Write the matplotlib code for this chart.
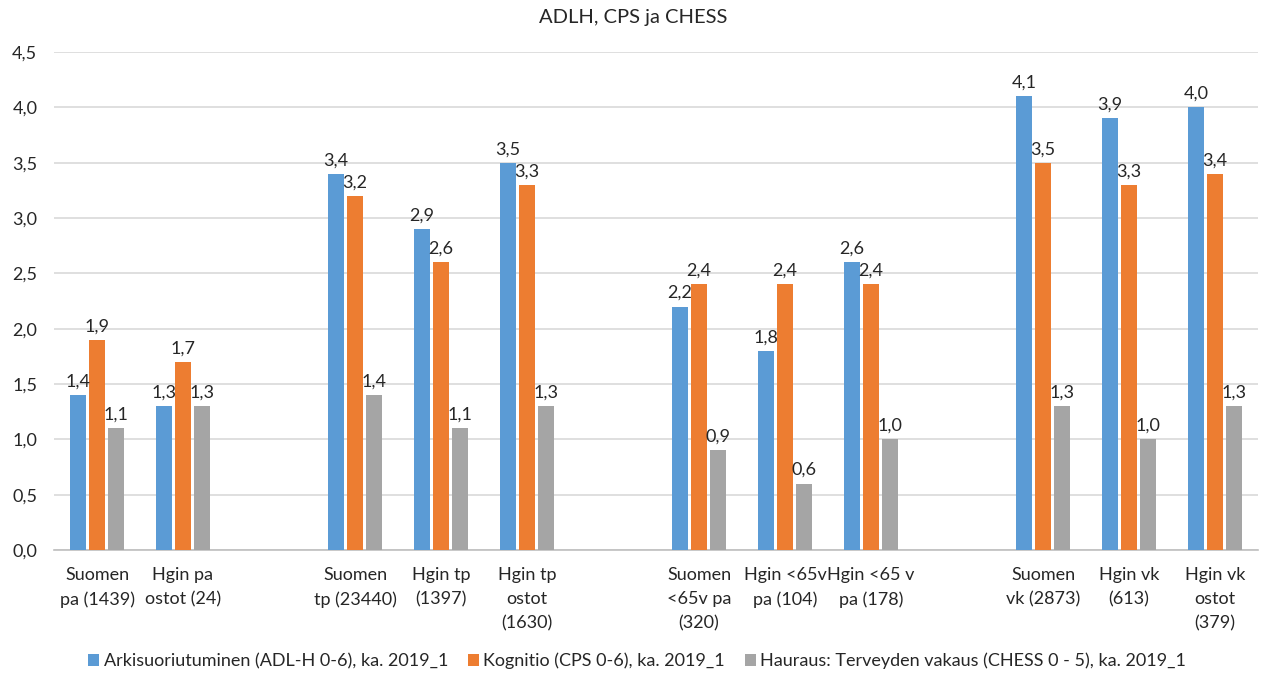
import numpy as np
import matplotlib
matplotlib.use("Agg")
import matplotlib.pyplot as plt

plt.rcParams['font.family'] = ['Lato', 'DejaVu Sans']

# kategoriat (tyhjat = ryhmien valit)
categories = ["Suomen\npa (1439)", "Hgin pa\nostot (24)", "",
              "Suomen\ntp (23440)", "Hgin tp\n(1397)", "Hgin tp\nostot\n(1630)", "",
              "Suomen\n<65v pa\n(320)", "Hgin <65v\npa (104)", "Hgin <65 v\npa (178)", "",
              "Suomen\nvk (2873)", "Hgin vk\n(613)", "Hgin vk\nostot\n(379)"]

adlh = [1.4, 1.3, np.nan, 3.4, 2.9, 3.5, np.nan, 2.2, 1.8, 2.6, np.nan, 4.1, 3.9, 4.0]
cps = [1.9, 1.7, np.nan, 3.2, 2.6, 3.3, np.nan, 2.4, 2.4, 2.4, np.nan, 3.5, 3.3, 3.4]
chess = [1.1, 1.3, np.nan, 1.4, 1.1, 1.3, np.nan, 0.9, 0.6, 1.0, np.nan, 1.3, 1.0, 1.3]

series_names = ["Arkisuoriutuminen (ADL-H 0-6), ka. 2019_1",
                "Kognitio (CPS 0-6), ka. 2019_1",
                "Hauraus: Terveyden vakaus (CHESS 0 - 5), ka. 2019_1"]
colors = ["#5B9BD5", "#ED7D31", "#A5A5A5"]

fig = plt.figure(figsize=(12.67, 6.74), dpi=100)
ax = fig.add_axes([54/1267, 1-550/674, 1204/1267, 498/674])

x = np.arange(len(categories))
w = 0.185
offs = [-0.22, 0.0, 0.22]
for vals, name, c, o in zip([adlh, cps, chess], series_names, colors, offs):
    bars = ax.bar(x + o, vals, width=w, color=c, label=name, zorder=3)
    for xi, v in zip(x, vals):
        if np.isnan(v):
            continue
        ax.text(xi + o, v + 0.05, f"{v:.1f}".replace(".", ","), ha='center', va='bottom',
                fontsize=13, color='#262626', zorder=4)

ax.set_xlim(-0.5, len(categories) - 0.5)
ax.set_ylim(0, 4.5)
yt = np.arange(0, 4.51, 0.5)
ax.set_yticks(yt)
ax.set_yticklabels([f"{t:.1f}".replace(".", ",") for t in yt])
ax.set_xticks(x)
ax.set_xticklabels(categories, linespacing=1.65)
ax.tick_params(axis='both', length=0, labelsize=13, colors='#262626')
ax.tick_params(axis='x', pad=12)
ax.tick_params(axis='y', pad=12)
ax.grid(axis='y', color='#D9D9D9', linewidth=1.2, zorder=0)
for s in ['top', 'right', 'left']:
    ax.spines[s].set_visible(False)
ax.spines['bottom'].set_color('#BFBFBF')
ax.spines['bottom'].set_linewidth(1.2)

fig.text(0.5, 1-17/674, "ADLH, CPS ja CHESS", ha='center', va='center', fontsize=14.5, color='#262626')

fig.legend(loc='center', bbox_to_anchor=(0.503, 1-661/674), ncol=3, frameon=False,
           fontsize=13, handlelength=0.6, handleheight=0.6, handletextpad=0.25,
           columnspacing=1.1, labelcolor='#262626')

fig.savefig("out.png", dpi=100)
